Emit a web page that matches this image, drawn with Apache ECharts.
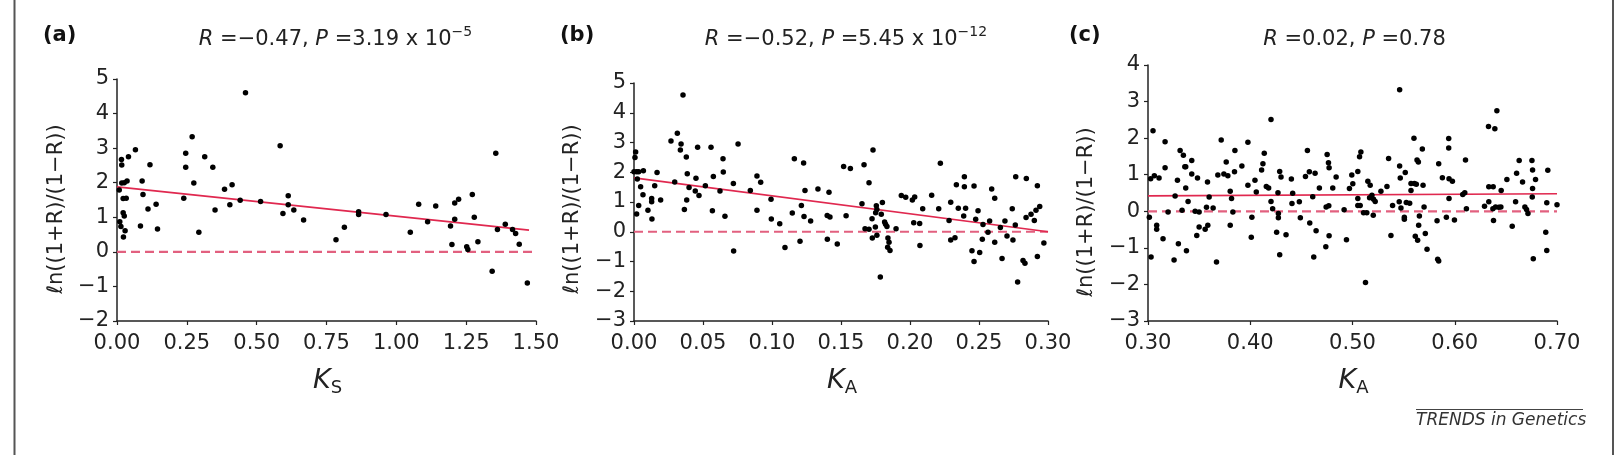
<!DOCTYPE html>
<html>
<head>
<meta charset="utf-8">
<script src="https://cdn.jsdelivr.net/npm/echarts@6/dist/echarts.min.js"></script>
<style>
html,body{margin:0;padding:0;background:#fff;}
#chart{width:1617px;height:455px;}
</style>
</head>
<body>
<div id="chart"></div>
<script>
// ---------- DATA ----------
const panelTitles = ['(a)', '(b)', '(c)'];
const statsR = ['−0.47', '−0.52', '0.02'];
const statsP = ['3.19 x 10', '5.45 x 10', '0.78'];
const statsPExp = ['−5', '−12', ''];
const xLabelSub = ['S', 'A', 'A'];

const xTicksA = [0, 1.5, 0.25];   // min, max, interval
const xTicksB = [0, 0.3, 0.05];
const xTicksC = [0.3, 0.7, 0.1];
const yTicksA = [-2, 5, 1];
const yTicksB = [-3, 5, 1];
const yTicksC = [-3, 4, 1];

const pointsA = [[0.460,4.60],[0.269,3.33],[0.066,2.95],[0.246,2.85],[0.584,3.07],[1.356,2.85],[0.016,2.67],[0.041,2.75],[0.017,2.51],[0.118,2.52],[0.246,2.45],[0.314,2.75],[0.343,2.45],[0.008,1.79],[0.017,1.99],[0.026,2.00],[0.036,2.05],[0.090,2.05],[0.275,1.99],[0.022,1.54],[0.033,1.55],[0.093,1.66],[0.239,1.55],[0.385,1.81],[0.412,1.94],[0.441,1.49],[0.514,1.46],[0.613,1.62],[0.111,1.24],[0.140,1.38],[0.351,1.21],[0.404,1.36],[0.613,1.36],[0.594,1.11],[0.633,1.21],[0.668,0.92],[0.022,1.13],[0.026,1.04],[0.010,0.87],[0.014,0.73],[0.084,0.75],[0.145,0.66],[0.293,0.57],[0.029,0.61],[0.023,0.43],[0.784,0.35],[0.814,0.71],[0.865,1.16],[0.865,1.08],[0.963,1.08],[1.050,0.57],[1.080,1.38],[1.112,0.87],[1.141,1.33],[1.194,0.75],[1.199,0.21],[1.209,1.41],[1.209,0.94],[1.223,1.52],[1.252,0.15],[1.256,0.07],[1.272,1.66],[1.279,1.00],[1.292,0.29],[1.343,-0.56],[1.362,0.65],[1.390,0.80],[1.416,0.65],[1.427,0.53],[1.440,0.22],[1.469,-0.90]];

const pointsB = [[0.0355,4.60],[0.0314,3.31],[0.0268,3.05],[0.0341,2.95],[0.0336,2.75],[0.0379,2.51],[0.0461,2.84],[0.0558,2.84],[0.0754,2.95],[0.0645,2.45],[0.0012,2.68],[0.0007,2.50],[0.0000,2.02],[0.0019,2.02],[0.0034,2.02],[0.0068,2.05],[0.0167,1.99],[0.0024,1.77],[0.0048,1.51],[0.0065,1.24],[0.0150,1.55],[0.0295,1.67],[0.0386,1.95],[0.0449,1.80],[0.0399,1.49],[0.0444,1.37],[0.0471,1.22],[0.0517,1.55],[0.0575,1.86],[0.0647,2.01],[0.0623,1.37],[0.0720,1.62],[0.0843,1.39],[0.0891,1.87],[0.0918,1.66],[0.0034,0.88],[0.0019,0.60],[0.0101,0.72],[0.0128,1.12],[0.0128,1.01],[0.0193,1.07],[0.0130,0.43],[0.0382,1.07],[0.0365,0.75],[0.0568,0.71],[0.0659,0.52],[0.0722,-0.65],[0.0891,0.72],[0.0993,1.09],[0.0995,0.43],[0.1056,0.27],[0.1094,-0.53],[0.1147,0.63],[0.1162,2.45],[0.1229,2.31],[0.1213,0.88],[0.1203,-0.32],[0.1239,1.39],[0.1232,0.51],[0.1280,0.36],[0.1333,1.44],[0.1413,1.33],[0.1401,-0.25],[0.1400,0.55],[0.1420,0.50],[0.1473,-0.41],[0.1519,2.19],[0.1568,2.13],[0.1537,0.54],[0.1652,0.94],[0.1667,2.25],[0.1703,1.65],[0.1732,2.75],[0.1674,0.10],[0.1703,0.08],[0.1725,0.44],[0.1727,-0.21],[0.1749,0.16],[0.1756,0.87],[0.1760,0.75],[0.1751,0.64],[0.1800,0.98],[0.1792,0.59],[0.1816,0.33],[0.1823,0.25],[0.1833,0.18],[0.1760,-0.12],[0.1785,-1.52],[0.1840,-0.21],[0.1848,-0.35],[0.1838,-0.52],[0.1855,-0.63],[0.1899,0.10],[0.1937,1.22],[0.1969,1.16],[0.2017,1.07],[0.2034,1.17],[0.2027,0.30],[0.2070,0.28],[0.2072,-0.46],[0.2092,0.77],[0.2157,1.23],[0.2220,2.30],[0.2208,0.77],[0.2283,0.38],[0.2295,-0.28],[0.2326,-0.20],[0.2295,0.99],[0.2336,1.58],[0.2350,0.79],[0.2403,0.79],[0.2394,1.85],[0.2394,1.51],[0.2389,0.53],[0.2464,1.54],[0.2449,-0.64],[0.2464,-1.00],[0.2476,0.42],[0.2493,0.71],[0.2505,-0.70],[0.2529,0.24],[0.2524,-0.25],[0.2565,-0.02],[0.2577,0.36],[0.2592,1.44],[0.2614,1.13],[0.2614,-0.35],[0.2655,0.14],[0.2667,-0.90],[0.2688,0.36],[0.2703,-0.14],[0.2746,-0.28],[0.2741,0.77],[0.2766,1.85],[0.2763,0.23],[0.2780,-1.69],[0.2819,-0.97],[0.2833,-1.06],[0.2843,1.79],[0.2841,0.48],[0.2877,0.59],[0.2901,0.38],[0.2913,0.72],[0.2923,1.55],[0.2923,-0.83],[0.2940,0.85],[0.2970,-0.38]];

const pointsC = [[0.3049,2.20],[0.3013,-0.16],[0.3030,-1.25],[0.3026,0.89],[0.3062,0.97],[0.3108,0.91],[0.3085,-0.38],[0.3085,-0.49],[0.3167,1.90],[0.3167,1.19],[0.3196,-0.02],[0.3147,-0.75],[0.3255,-1.33],[0.3265,0.42],[0.3288,0.85],[0.3314,1.66],[0.3346,1.53],[0.3360,1.22],[0.3369,1.22],[0.3297,-0.89],[0.3333,0.03],[0.3369,0.64],[0.3376,-1.08],[0.3392,0.27],[0.3428,1.39],[0.3428,1.02],[0.3461,0.00],[0.3500,-0.02],[0.3484,0.91],[0.3477,-0.66],[0.3500,-0.43],[0.3559,-0.49],[0.3582,0.80],[0.3572,0.11],[0.3598,0.39],[0.3585,-0.38],[0.3637,0.09],[0.3670,-1.39],[0.3683,0.99],[0.3716,1.95],[0.3742,1.02],[0.3781,0.97],[0.3765,1.35],[0.3804,0.55],[0.3817,0.35],[0.3804,-0.38],[0.3830,-0.02],[0.3846,1.08],[0.3850,1.66],[0.3918,1.24],[0.3977,1.89],[0.3977,0.71],[0.4016,-0.16],[0.4010,-0.71],[0.4046,0.85],[0.4059,0.53],[0.4111,1.13],[0.4124,1.30],[0.4137,1.59],[0.4157,0.68],[0.4180,0.64],[0.4203,2.51],[0.4203,0.27],[0.4219,0.07],[0.4271,0.51],[0.4275,-0.06],[0.4275,-0.18],[0.4288,1.09],[0.4301,0.94],[0.4258,-0.57],[0.4288,-1.19],[0.4350,-0.64],[0.4402,0.88],[0.4415,0.49],[0.4408,0.21],[0.4480,0.26],[0.4490,-0.18],[0.4559,1.66],[0.4540,0.95],[0.4578,1.08],[0.4634,1.04],[0.4582,-0.32],[0.4611,0.40],[0.4644,-0.53],[0.4621,-1.25],[0.4676,0.64],[0.4739,-0.97],[0.4752,1.55],[0.4765,1.33],[0.4771,1.19],[0.4742,0.12],[0.4768,0.15],[0.4771,-0.67],[0.4807,0.64],[0.4840,0.94],[0.4918,0.04],[0.4941,-0.78],[0.4970,0.62],[0.4993,0.99],[0.5003,0.75],[0.5052,1.09],[0.5052,0.35],[0.5052,0.16],[0.5075,0.16],[0.5069,1.49],[0.5082,1.62],[0.5108,-0.04],[0.5140,-0.04],[0.5127,-1.95],[0.5150,0.82],[0.5173,0.71],[0.5190,0.44],[0.5167,0.37],[0.5206,0.33],[0.5222,0.27],[0.5203,-0.11],[0.5278,0.55],[0.5337,0.68],[0.5353,1.44],[0.5376,-0.66],[0.5392,0.16],[0.5461,3.32],[0.5461,1.24],[0.5467,0.91],[0.5457,0.26],[0.5474,0.09],[0.5516,1.06],[0.5507,-0.16],[0.5507,-0.22],[0.5526,0.24],[0.5559,0.22],[0.5572,0.57],[0.5572,0.76],[0.5605,0.76],[0.5624,0.74],[0.5601,2.00],[0.5631,1.40],[0.5644,1.35],[0.5683,1.70],[0.5690,0.71],[0.5700,0.12],[0.5654,-0.13],[0.5647,-0.38],[0.5614,-0.68],[0.5637,-0.79],[0.5712,-0.61],[0.5729,-1.04],[0.5827,-0.26],[0.5833,-1.31],[0.5843,-1.36],[0.5843,1.30],[0.5879,0.92],[0.5918,-0.16],[0.5941,1.99],[0.5941,1.73],[0.5944,0.89],[0.5977,0.82],[0.5944,0.35],[0.5997,-0.24],[0.6078,0.46],[0.6098,0.51],[0.6105,1.40],[0.6114,0.07],[0.6291,0.14],[0.6330,2.32],[0.6333,0.67],[0.6376,0.67],[0.6333,0.26],[0.6392,2.26],[0.6412,2.75],[0.6379,-0.25],[0.6373,0.07],[0.6399,0.12],[0.6431,0.11],[0.6451,0.12],[0.6454,0.57],[0.6510,0.87],[0.6562,-0.41],[0.6595,0.26],[0.6605,1.04],[0.6630,1.39],[0.6663,0.80],[0.6686,0.12],[0.6702,0.05],[0.6716,-0.06],[0.6755,1.39],[0.6761,1.13],[0.6761,0.62],[0.6758,0.39],[0.6768,-1.30],[0.6790,0.87],[0.6890,-0.57],[0.6900,-1.07],[0.6900,0.23],[0.6910,1.12],[0.7000,0.18]];

const trendA = [[0, 1.88], [1.475, 0.63]];
const trendB = [[0, 1.81], [0.30, 0.00]];
const trendC = [[0.30, 0.42], [0.70, 0.48]];
const zeroA = [[0, 0], [1.5, 0]];
const zeroB = [[0, 0], [0.30, 0]];
const zeroC = [[0.30, 0], [0.70, 0]];

// ---------- STYLE / LAYOUT ----------
const FONT = 'DejaVu Sans';
const TXT = '#222';
const RED = '#e0284f';
const PINK = '#e2607f';
const grids = [
  {left: 117, top: 79, width: 419, height: 242},
  {left: 634, top: 83, width: 414, height: 238},
  {left: 1148, top: 65, width: 409, height: 256}
];
const xT = [xTicksA, xTicksB, xTicksC];
const yT = [yTicksA, yTicksB, yTicksC];
const pts = [pointsA, pointsB, pointsC];
const trends = [trendA, trendB, trendC];
const zeros = [zeroA, zeroB, zeroC];

function minus(v){ return v < 0 ? '−' + Math.abs(v) : String(v); }

const xAxes = [], yAxes = [], series = [], graphics = [];
for (let i = 0; i < 3; i++) {
  xAxes.push({
    type: 'value', gridIndex: i, min: xT[i][0], max: xT[i][1], interval: xT[i][2],
    axisLine: {show: true, onZero: false, lineStyle: {color: TXT, width: 1.5}},
    axisTick: {show: true, inside: false, length: 4, lineStyle: {color: TXT, width: 1.2}},
    splitLine: {show: false},
    axisLabel: {fontFamily: FONT, fontSize: 21, color: TXT, margin: 12,
      formatter: v => v.toFixed(2), showMinLabel: true, showMaxLabel: true}
  });
  yAxes.push({
    type: 'value', gridIndex: i, min: yT[i][0], max: yT[i][1], interval: yT[i][2],
    axisLine: {show: true, onZero: false, lineStyle: {color: TXT, width: 1.5}},
    axisTick: {show: true, inside: false, length: 4, lineStyle: {color: TXT, width: 1.2}},
    splitLine: {show: false},
    axisLabel: {fontFamily: FONT, fontSize: 21, color: TXT, margin: 8, formatter: minus}
  });
  series.push({
    type: 'line', xAxisIndex: i, yAxisIndex: i, data: zeros[i], symbol: 'none',
    lineStyle: {color: PINK, width: 2.2, type: [9, 5]}, z: 2, silent: true
  });
  series.push({
    type: 'line', xAxisIndex: i, yAxisIndex: i, data: trends[i], symbol: 'none',
    lineStyle: {color: RED, width: 1.7}, z: 3, silent: true
  });
  series.push({
    type: 'scatter', xAxisIndex: i, yAxisIndex: i, data: pts[i], symbolSize: 5.5,
    itemStyle: {color: '#000', opacity: 1}, z: 4
  });

  const g = grids[i];
  const cx = g.left + g.width / 2;
  const letterX = [43, 560, 1069][i];
  graphics.push({type: 'text', left: letterX, top: 25, style: {
    text: panelTitles[i], font: 'bold 21px "' + FONT + '"', fill: '#111'}});
  const exp = statsPExp[i] ? '{s|' + statsPExp[i] + '}' : '';
  graphics.push({type: 'text', x: cx + [9, 5, 2][i], y: 40, style: {
    text: '{i|R} =' + statsR[i] + ', {i|P} =' + statsP[i] + exp,
    align: 'center', textAlign: 'center', verticalAlign: 'middle', textVerticalAlign: 'middle',
    fontFamily: FONT, fontSize: 21, fill: TXT, lineHeight: 30,
    rich: {
      i: {fontFamily: FONT, fontSize: 21, fontStyle: 'italic', fill: TXT, lineHeight: 30},
      s: {fontFamily: FONT, fontSize: 14, fill: TXT, lineHeight: 14, verticalAlign: 'top'}
    }
  }});
  graphics.push({type: 'text', x: [57, 573, 1087][i], y: [209, 209, 212][i], rotation: Math.PI / 2, style: {
    text: 'ℓn((1+R)/(1−R))', align: 'center', textAlign: 'center',
    verticalAlign: 'middle', textVerticalAlign: 'middle',
    fontFamily: FONT, fontSize: 21, fill: TXT}});
  graphics.push({type: 'text', x: cx + 1, y: 381, style: {
    text: '{k|K}{s|' + xLabelSub[i] + '}', align: 'center', textAlign: 'center',
    verticalAlign: 'middle', textVerticalAlign: 'middle', fontFamily: FONT, fontSize: 24, fill: TXT,
    rich: {
      k: {fontFamily: FONT, fontSize: 27, fontStyle: 'italic', fill: TXT, lineHeight: 32},
      s: {fontFamily: FONT, fontSize: 18, fill: TXT, lineHeight: 17, verticalAlign: 'bottom'}
    }
  }});
}
graphics.push({type: 'line', shape: {x1: 14.5, y1: 0, x2: 14.5, y2: 455}, style: {stroke: '#555', lineWidth: 2}});
graphics.push({type: 'line', shape: {x1: 1613, y1: 0, x2: 1613, y2: 455}, style: {stroke: '#555', lineWidth: 2}});
graphics.push({type: 'line', shape: {x1: 1416, y1: 409.5, x2: 1583, y2: 409.5}, style: {stroke: '#444', lineWidth: 1.2}});
graphics.push({type: 'text', x: 1416, y: 421, style: {
  text: 'TRENDS in Genetics', align: 'left', textAlign: 'left', verticalAlign: 'middle', textVerticalAlign: 'middle',
  fontFamily: FONT, fontSize: 17, fontStyle: 'italic', fill: '#333'}});

const chart = echarts.init(document.getElementById('chart'), null, {renderer: 'canvas', width: 1617, height: 455});
chart.setOption({
  animation: false,
  backgroundColor: '#fff',
  grid: grids,
  xAxis: xAxes,
  yAxis: yAxes,
  series: series,
  graphic: graphics
});
</script>
</body>
</html>
